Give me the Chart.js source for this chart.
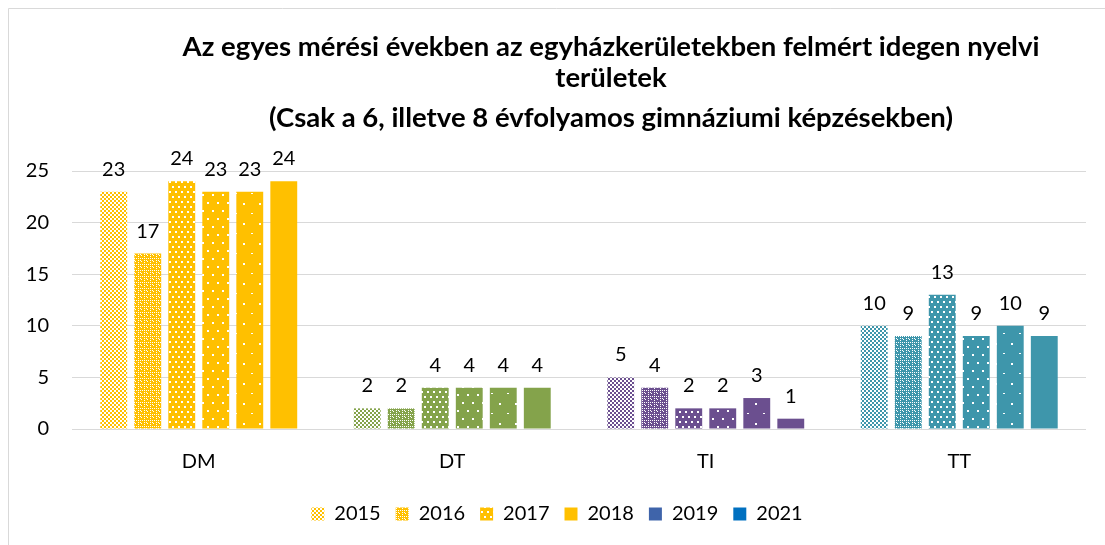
<!DOCTYPE html>
<html><head><meta charset="utf-8">
<script src="https://cdn.jsdelivr.net/npm/chart.js@4/dist/chart.umd.min.js"></script>
<style>html,body{margin:0;padding:0;background:#fff;} canvas{display:block;}</style>
</head><body>
<canvas id="c" width="1105" height="545"></canvas>
<script>
const categories = ['DM', 'DT', 'TI', 'TT'];
const years = ['2015', '2016', '2017', '2018', '2019', '2021'];
const values2015 = [23, 2, 5, 10];
const values2016 = [17, 2, 4, 9];
const values2017 = [24, 4, 2, 13];
const values2018 = [23, 4, 2, 9];
const values2019 = [23, 4, 3, 10];
const values2021 = [24, 4, 1, 9];
const yTicks = [0, 5, 10, 15, 20, 25];
const titleLines = [
  'Az egyes mérési években az egyházkerületekben felmért idegen nyelvi',
  'területek',
  '(Csak a 6, illetve 8 évfolyamos gimnáziumi képzésekben)'
];
const categoryColors = ['#FFC000', '#84A34B', '#6B4F8F', '#3E96AB'];
const legendColors = ['#FFC000', '#FFC000', '#FFC000', '#FFC000', '#3F64AA', '#0070C0'];

const FONT = 'Lato, "Open Sans", sans-serif';

function makePattern(color, type) {
  if (type === 5) return color;
  const c = document.createElement('canvas');
  const x = c.getContext('2d');
  const dot = (px, py, w, h) => x.fillRect(px, py, w || 2, h || 2);
  let W, H;
  if (type === 0) { W = 4; H = 4; }
  else if (type === 1) { W = 6; H = 6; }
  else if (type === 2) { W = 6; H = 10; }
  else if (type === 3) { W = 10; H = 16; }
  else { W = 16; H = 20; }
  c.width = W; c.height = H;
  x.fillStyle = color; x.fillRect(0, 0, W, H);
  x.fillStyle = '#ffffff';
  if (type === 0) { dot(0, 0); dot(2, 2); }
  else if (type === 1) {
    dot(0, 0, 1, 1); dot(2, 0, 1, 1); dot(4, 0, 1, 1);
    dot(0, 2, 1, 1); dot(0, 4, 1, 1);
    dot(3, 3, 1, 1);
    dot(2, 2, 1, 1);
  }
  else if (type === 2) { dot(1, 1); dot(4, 6); }
  else if (type === 3) { dot(2, 2); dot(7, 10); }
  else { dot(3, 3); dot(11, 13, 2, 1); }
  return x.createPattern(c, 'repeat');
}

const seriesValues = [values2015, values2016, values2017, values2018, values2019, values2021];
const patterns = years.map((y, t) => categoryColors.map(col => makePattern(col, t)));
const legendFills = [
  makePattern(legendColors[0], 0),
  makePattern(legendColors[1], 1),
  makePattern(legendColors[2], 2),
  legendColors[3], legendColors[4], legendColors[5]
];

const datasets = years.map((y, t) => ({
  label: y,
  data: seriesValues[t],
  backgroundColor: (ctx) => patterns[t][ctx.dataIndex],
  borderWidth: 0,
  categoryPercentage: 0.805,
  barPercentage: 0.79
}));

const framePlugin = {
  id: 'frame',
  afterLayout(chart) {
    if (chart.legend) { chart.legend.left += 10; chart.legend.right += 10; }
  },
  beforeDraw(chart) {
    const ctx = chart.ctx;
    ctx.save();
    ctx.fillStyle = '#fff';
    ctx.fillRect(0, 0, chart.width, chart.height);
    ctx.strokeStyle = '#D9D9D9';
    ctx.lineWidth = 1;
    ctx.beginPath();
    ctx.moveTo(8.5, 545); ctx.lineTo(8.5, 8.5); ctx.lineTo(1105, 8.5);
    ctx.stroke();
    ctx.restore();
  },
  afterDraw(chart) {
    const ctx = chart.ctx;
    ctx.save();
    ctx.fillStyle = '#000';
    ctx.textAlign = 'center';
    ctx.textBaseline = 'alphabetic';
    let size = 24;
    ctx.font = `bold ${size}px ${FONT}`;
    const w = ctx.measureText(titleLines[0]).width;
    size = size * 857 / w;
    ctx.font = `bold ${size}px ${FONT}`;
    const ys = [56, 87, 127];
    titleLines.forEach((l, i) => ctx.fillText(l, 611, ys[i]));
    ctx.restore();
  }
};

const labelPlugin = {
  id: 'vals',
  afterDatasetsDraw(chart) {
    const ctx = chart.ctx;
    ctx.save();
    ctx.fillStyle = '#000';
    ctx.font = `20px ${FONT}`;
    ctx.textAlign = 'center';
    ctx.textBaseline = 'alphabetic';
    chart.data.datasets.forEach((ds, i) => {
      chart.getDatasetMeta(i).data.forEach((bar, j) => {
        ctx.fillText(String(ds.data[j]), bar.x, bar.y - 16);
      });
    });
    ctx.restore();
  }
};

new Chart(document.getElementById('c'), {
  type: 'bar',
  data: { labels: categories, datasets },
  options: {
    responsive: false,
    animation: false,
    layout: { padding: { left: 8, right: 19, top: 171, bottom: 11 } },
    plugins: {
      title: { display: false },
      tooltip: { enabled: false },
      legend: {
        position: 'bottom',
        labels: {
          font: { family: FONT, size: 20 },
          color: '#000',
          boxWidth: 13,
          boxHeight: 13,
          padding: 15,
          generateLabels: () => years.map((y, i) => ({
            text: y, fillStyle: legendFills[i], strokeStyle: 'rgba(0,0,0,0)',
            lineWidth: 0, hidden: false, datasetIndex: i, fontColor: '#000'
          }))
        }
      }
    },
    scales: {
      x: {
        grid: { display: false },
        border: { display: false },
        ticks: { font: { family: FONT, size: 20 }, color: '#000', padding: 13 },
        afterFit: s => { s.height = 60; }
      },
      y: {
        min: 0, max: 25,
        afterBuildTicks: s => { s.ticks = yTicks.map(v => ({ value: v })); },
        grid: { color: '#D9D9D9', lineWidth: 1, drawTicks: false },
        border: { display: false },
        ticks: { font: { family: FONT, size: 20 }, color: '#000', padding: 23 },
        afterFit: s => { s.width = 64; }
      }
    }
  },
  plugins: [framePlugin, labelPlugin]
});
</script>
</body></html>
